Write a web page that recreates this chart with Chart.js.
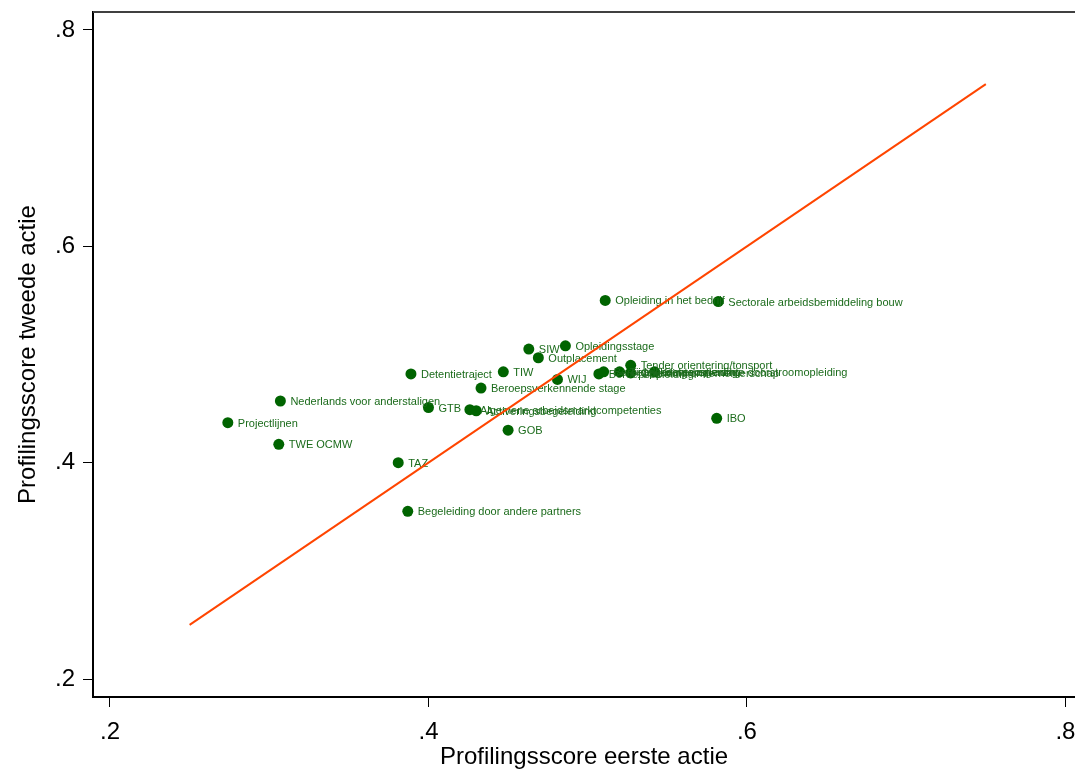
<!DOCTYPE html>
<html>
<head>
<meta charset="utf-8">
<script src="https://cdn.jsdelivr.net/npm/chart.js@4.4.1/dist/chart.umd.min.js"></script>
<style>
  html, body { margin: 0; padding: 0; background: #fff; }
  #wrap { width: 1075px; height: 774px; }
</style>
</head>
<body>
<div id="wrap"><canvas id="myChart" width="1075" height="774"></canvas></div>
<script>
// actions, first action score (x) and second action score (y)
const actions = [
  'Projectlijnen', 'TWE OCMW', 'Nederlands voor anderstaligen', 'TAZ',
  'Begeleiding door andere partners', 'Detentietraject', 'GTB',
  'Algemene arbeidsmarktcompetenties', 'Activeringsbegeleiding',
  'Beroepsverkennende stage', 'TIW', 'GOB', 'SIW', 'Outplacement', 'WIJ',
  'Opleidingsstage', 'Beroepsopleiding', 'Beroepsgerichte opleiding',
  'Tijdelijke werkervaring', 'Opleiding ondernemerschap',
  'Tender orientering/tonsport', 'Beroepsgerichte doorstroomopleiding',
  'Opleiding in het bedrijf', 'IBO', 'Sectorale arbeidsbemiddeling bouw'
];
const firstScore = [
  0.274, 0.306, 0.307, 0.381,
  0.387, 0.389, 0.400,
  0.426, 0.430,
  0.433, 0.447, 0.450, 0.463, 0.469, 0.481,
  0.486, 0.507, 0.510,
  0.520, 0.527,
  0.527, 0.542,
  0.511, 0.581, 0.582
];
const secondScore = [
  0.437, 0.417, 0.457, 0.400,
  0.355, 0.482, 0.451,
  0.449, 0.448,
  0.469, 0.484, 0.430, 0.505, 0.497, 0.477,
  0.508, 0.482, 0.484,
  0.484, 0.483,
  0.490, 0.484,
  0.550, 0.441, 0.549
];
// 45 degree reference line
const lineX = [0.25, 0.75];
const lineY = [0.25, 0.75];
const tickValues = [0.2, 0.4, 0.6, 0.8];

const fontFamily = '"Liberation Sans", Arial, sans-serif';
const green = '#006400';

const fmt = (v) => v.toFixed(1).replace(/^0/, '');

// point labels, drawn right after the dots (before the line)
const pointLabels = {
  id: 'pointLabels',
  afterDatasetDraw(chart, args) {
    if (args.index !== 1) return;
    const ctx = chart.ctx;
    ctx.save();
    ctx.font = '11px ' + fontFamily;
    ctx.fillStyle = '#1b6b1b';
    ctx.textBaseline = 'middle';
    args.meta.data.forEach((pt, i) => {
      ctx.fillText(actions[i], pt.x + 10, pt.y + 1);
    });
    ctx.restore();
  },
};

// top frame line
const topFrame = {
  id: 'topFrame',
  beforeDatasetsDraw(chart) {
    const { ctx, chartArea } = chart;
    ctx.save();
    ctx.strokeStyle = '#404040';
    ctx.lineWidth = 2;
    ctx.beginPath();
    ctx.moveTo(chartArea.left, chartArea.top);
    ctx.lineTo(chartArea.right, chartArea.top);
    ctx.stroke();
    ctx.restore();
  },
};

const ctx = document.getElementById('myChart').getContext('2d');
const myChart = new Chart(ctx, {
  type: 'scatter',
  data: {
    datasets: [
      {
        type: 'line',
        data: lineX.map((x, i) => ({ x: x, y: lineY[i] })),
        borderColor: '#ff4500',
        borderWidth: 2,
        pointRadius: 0,
        fill: false,
      },
      {
        data: firstScore.map((x, i) => ({ x: x, y: secondScore[i] })),
        backgroundColor: green,
        borderColor: green,
        pointRadius: 5.5,
        pointBorderWidth: 0,
      },
    ],
  },
  options: {
    responsive: false,
    animation: false,
    layout: { autoPadding: false, padding: { top: 12, right: 0, bottom: 0, left: 0 } },
    plugins: {
      legend: { display: false },
      tooltip: { enabled: false },
    },
    scales: {
      x: {
        type: 'linear',
        min: 0.18933,
        max: 0.806,
        afterBuildTicks: (scale) => {
          scale.ticks = tickValues.map((v) => ({ value: v }));
        },
        afterFit: (scale) => {
          scale.height = 77;
          scale.paddingLeft = 0;
          scale.paddingRight = 0;
        },
        ticks: {
          callback: (v) => fmt(v),
          font: { family: fontFamily, size: 24 },
          color: '#000',
          padding: 11,
          maxRotation: 0,
        },
        grid: {
          drawOnChartArea: false,
          drawTicks: true,
          tickLength: 10,
          color: '#000',
          lineWidth: 1,
        },
        border: { display: true, color: '#000', width: 2 },
        title: {
          display: true,
          text: 'Profilingsscore eerste actie',
          font: { family: fontFamily, size: 24, lineHeight: 1.2 },
          color: '#000',
          padding: { top: 0, bottom: 2 },
        },
      },
      y: {
        type: 'linear',
        min: 0.18337,
        max: 0.81663,
        afterBuildTicks: (scale) => {
          scale.ticks = tickValues.map((v) => ({ value: v }));
        },
        afterFit: (scale) => {
          scale.width = 93;
          scale.paddingTop = 0;
          scale.paddingBottom = 0;
        },
        ticks: {
          callback: (v) => fmt(v),
          font: { family: fontFamily, size: 24 },
          color: '#000',
          padding: 8,
        },
        grid: {
          drawOnChartArea: false,
          drawTicks: true,
          tickLength: 10,
          color: '#000',
          lineWidth: 1,
        },
        border: { display: true, color: '#000', width: 2 },
        title: {
          display: true,
          text: 'Profilingsscore tweede actie',
          font: { family: fontFamily, size: 24, lineHeight: 1.2 },
          color: '#000',
          padding: { top: 14, bottom: 0 },
        },
      },
    },
  },
  plugins: [pointLabels, topFrame],
});
</script>
</body>
</html>
